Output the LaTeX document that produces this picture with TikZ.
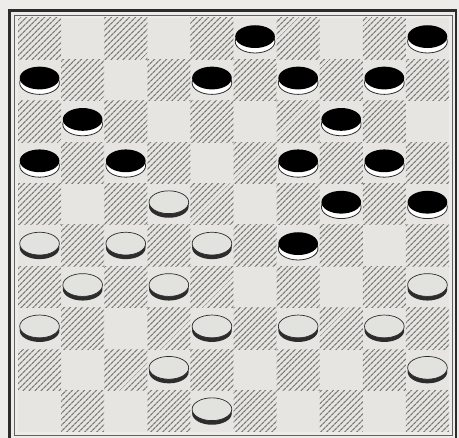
\documentclass[tikz,border=0pt]{standalone}
\usetikzlibrary{patterns.meta}

\definecolor{paper}{HTML}{EDECE8}
\definecolor{boardbg}{HTML}{E6E5E1}
\definecolor{hatch}{HTML}{7C7C7A}
\definecolor{frame}{HTML}{2C2C2C}
\definecolor{manlight}{HTML}{E2E2DE}

\tikzset{
  darksq/.style={pattern={Lines[angle=45,distance=4pt,line width=1.3pt]},pattern color=hatch},
  manrim/.style={fill=white,draw=frame,line width=0.8pt},
  mantop/.style={fill=black},
  manedge/.style={fill=frame},
  manface/.style={fill=manlight,draw=frame,line width=0.7pt},
  man/.style={x radius=0.46,y radius=0.275}
}

\begin{document}
\begin{tikzpicture}[x=1pt,y=-1pt]
  \useasboundingbox (0,0) rectangle (459,438);
  \clip (0,0) rectangle (459,438);
  \fill[paper] (0,0) rectangle (459,438);

  \draw[frame,line width=2.5pt] (9.5,10.5) rectangle (456,446);
  \draw[frame!75,line width=0.9pt] (14.5,15.5) rectangle (452,435.5);

  \begin{scope}[shift={(18,18)},x=43.1pt,y=-41.4pt]
    \fill[boardbg] (0,0) rectangle (10,10);
    \foreach \r in {0,...,9}{
      \foreach \c in {0,...,9}{
        \pgfmathparse{int(mod(\r+\c,2))}
        \ifnum\pgfmathresult=0
          \fill[darksq] (\c,\r) rectangle ++(1,1);
        \fi
      }
    }

    % black men
    \foreach \c/\r in {5/0,9/0,0/1,4/1,6/1,8/1,1/2,7/2,0/3,2/3,6/3,8/3,7/4,9/4,6/5}{
      \filldraw[manrim] (\c+0.5,\r+0.57) ellipse [man];
      \fill[mantop] (\c+0.5,\r+0.45) ellipse [man];
    }

    % white men
    \foreach \c/\r in {3/4,0/5,2/5,4/5,1/6,3/6,9/6,0/7,4/7,6/7,8/7,3/8,9/8,4/9}{
      \fill[manedge] (\c+0.5,\r+0.55) ellipse [man];
      \filldraw[manface] (\c+0.5,\r+0.45) ellipse [man];
    }
  \end{scope}
\end{tikzpicture}
\end{document}
